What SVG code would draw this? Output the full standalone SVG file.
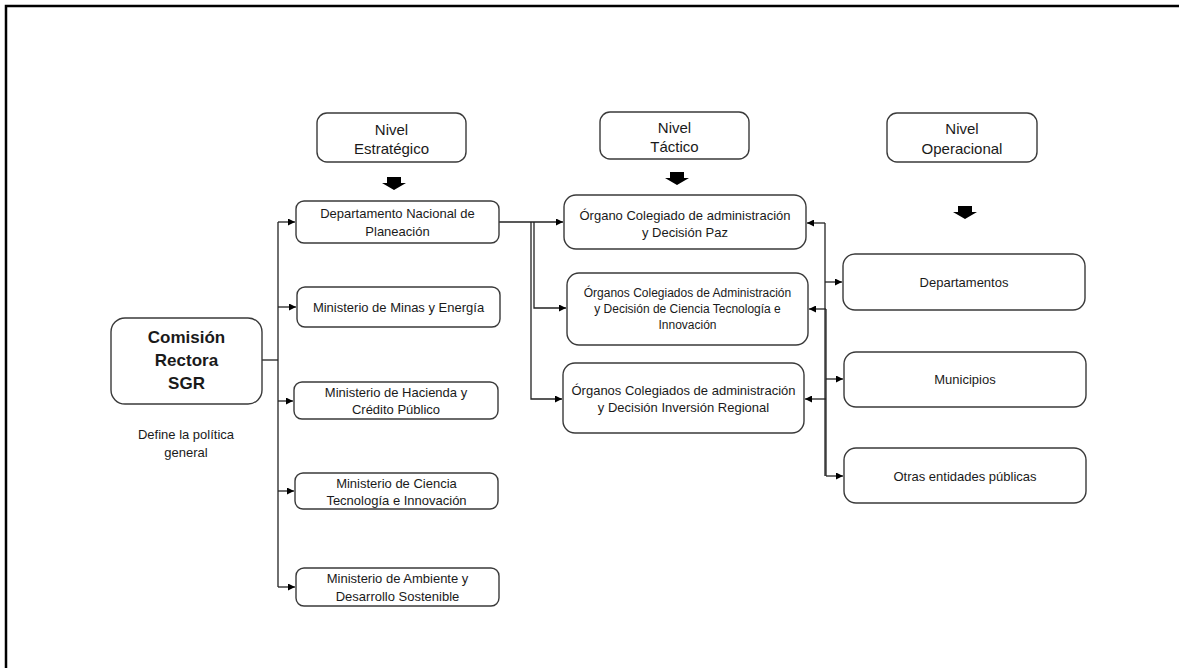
<svg xmlns="http://www.w3.org/2000/svg" width="1179" height="668" viewBox="0 0 1179 668">
<defs>
<style>
.box{fill:#fff;stroke:#3a3a3a;stroke-width:1.4}
.t{font-family:"Liberation Sans",Arial,sans-serif;fill:#1a1a1a;text-anchor:middle;dominant-baseline:central}
.h{font-size:15px}
.b{font-size:13px}
.s{font-size:12px}
.big{font-size:17px;font-weight:bold}
.c{fill:none;stroke:#222;stroke-width:1.3}
.blk{fill:#000}
</style>
<marker id="ar" viewBox="0 0 10 10" refX="10" refY="5" markerWidth="7" markerHeight="7" markerUnits="userSpaceOnUse" orient="auto">
<path d="M0,0 L10,5 L0,10 Z" fill="#000"/>
</marker>
</defs>
<rect width="1179" height="668" fill="#fff"/>
<path d="M6,668 V6 H1179" fill="none" stroke="#000" stroke-width="2.5"/>

<g id="connectors">
<path class="c" d="M262,360 H278"/>
<path class="c" d="M278,222 V587"/>
<path class="c" d="M278,222 H295" marker-end="url(#ar)"/>
<path class="c" d="M278,307 H296" marker-end="url(#ar)"/>
<path class="c" d="M278,401 H293" marker-end="url(#ar)"/>
<path class="c" d="M278,491 H294" marker-end="url(#ar)"/>
<path class="c" d="M278,587 H295" marker-end="url(#ar)"/>
<path class="c" d="M499,222 H563" marker-end="url(#ar)"/>
<path class="c" d="M531,222 V399 H562" marker-end="url(#ar)"/>
<path class="c" d="M534,222 V308 H566" marker-end="url(#ar)"/>
<path class="c" d="M825,223 H807" marker-end="url(#ar)"/>
<path class="c" d="M826,309 H809" marker-end="url(#ar)"/>
<path class="c" d="M826,399 H805" marker-end="url(#ar)"/>
<path class="c" d="M825,223 V476"/>
<path class="c" d="M826,309 V476"/>
<path class="c" d="M825,282 H842" marker-end="url(#ar)"/>
<path class="c" d="M826,379 H843" marker-end="url(#ar)"/>
<path class="c" d="M826,476 H843" marker-end="url(#ar)"/>
</g>

<g id="arrow-estrategico"><path class="blk" d="M387,177 H401 V183 H406 L394,190 L382,183 H387 Z"/></g>
<g id="arrow-tactico"><path class="blk" d="M670,172 H684 V178 H689 L677,185 L665,178 H670 Z"/></g>
<g id="arrow-operacional"><path class="blk" d="M958,206 H972 V212 H977 L965,219 L953,212 H958 Z"/></g>

<g id="nivel-estrategico">
<rect class="box" x="317" y="113" width="149" height="49" rx="10"/>
<text class="t h" x="391.5" y="129">Nivel</text>
<text class="t h" x="391.5" y="148">Estratégico</text>
</g>
<g id="nivel-tactico">
<rect class="box" x="600" y="112" width="149" height="47" rx="10"/>
<text class="t h" x="674.5" y="127">Nivel</text>
<text class="t h" x="674.5" y="146">Táctico</text>
</g>
<g id="nivel-operacional">
<rect class="box" x="887" y="113" width="150" height="49" rx="10"/>
<text class="t h" x="962" y="128">Nivel</text>
<text class="t h" x="962" y="148">Operacional</text>
</g>

<g id="comision">
<rect class="box" x="111" y="318" width="151" height="86" rx="14"/>
<text class="t big" x="186.5" y="337">Comisión</text>
<text class="t big" x="186.5" y="360">Rectora</text>
<text class="t big" x="186.5" y="383">SGR</text>
</g>
<g id="define">
<text class="t b" x="186" y="434">Define la política</text>
<text class="t b" x="186" y="452">general</text>
</g>

<g id="dnp">
<rect class="box" x="296" y="201" width="203" height="42" rx="8"/>
<text class="t b" x="397.5" y="213">Departamento Nacional de</text>
<text class="t b" x="397.5" y="231">Planeación</text>
</g>
<g id="minas">
<rect class="box" x="297" y="287" width="203" height="40" rx="8"/>
<text class="t b" x="398.5" y="307">Ministerio de Minas y Energía</text>
</g>
<g id="hacienda">
<rect class="box" x="294" y="382" width="204" height="37" rx="8"/>
<text class="t b" x="396" y="392">Ministerio de Hacienda y</text>
<text class="t b" x="396" y="409">Crédito Público</text>
</g>
<g id="ciencia">
<rect class="box" x="295" y="473" width="203" height="36" rx="8"/>
<text class="t b" x="396.5" y="483">Ministerio de Ciencia</text>
<text class="t b" x="396.5" y="500">Tecnología e Innovación</text>
</g>
<g id="ambiente">
<rect class="box" x="296" y="568" width="203" height="38" rx="8"/>
<text class="t b" x="397.5" y="578">Ministerio de Ambiente y</text>
<text class="t b" x="397.5" y="596">Desarrollo Sostenible</text>
</g>

<g id="ocad-paz">
<rect class="box" x="564" y="195" width="242" height="54" rx="12"/>
<text class="t b" x="685" y="215">Órgano Colegiado de administración</text>
<text class="t b" x="685" y="232">y Decisión Paz</text>
</g>
<g id="ocad-cti">
<rect class="box" x="567" y="273" width="241" height="72" rx="12"/>
<text class="t s" x="687.5" y="293">Órganos Colegiados de Administración</text>
<text class="t s" x="687.5" y="309">y Decisión de Ciencia Tecnología e</text>
<text class="t s" x="687.5" y="325">Innovación</text>
</g>
<g id="ocad-regional">
<rect class="box" x="563" y="363" width="241" height="70" rx="12"/>
<text class="t b" x="683.5" y="390">Órganos Colegiados de administración</text>
<text class="t b" x="683.5" y="407">y Decisión Inversión Regional</text>
</g>

<g id="departamentos">
<rect class="box" x="843" y="254" width="242" height="56" rx="12"/>
<text class="t b" x="964" y="282">Departamentos</text>
</g>
<g id="municipios">
<rect class="box" x="844" y="352" width="242" height="55" rx="12"/>
<text class="t b" x="965" y="379">Municipios</text>
</g>
<g id="otras">
<rect class="box" x="844" y="448" width="242" height="55" rx="12"/>
<text class="t b" x="965" y="476">Otras entidades públicas</text>
</g>
</svg>
